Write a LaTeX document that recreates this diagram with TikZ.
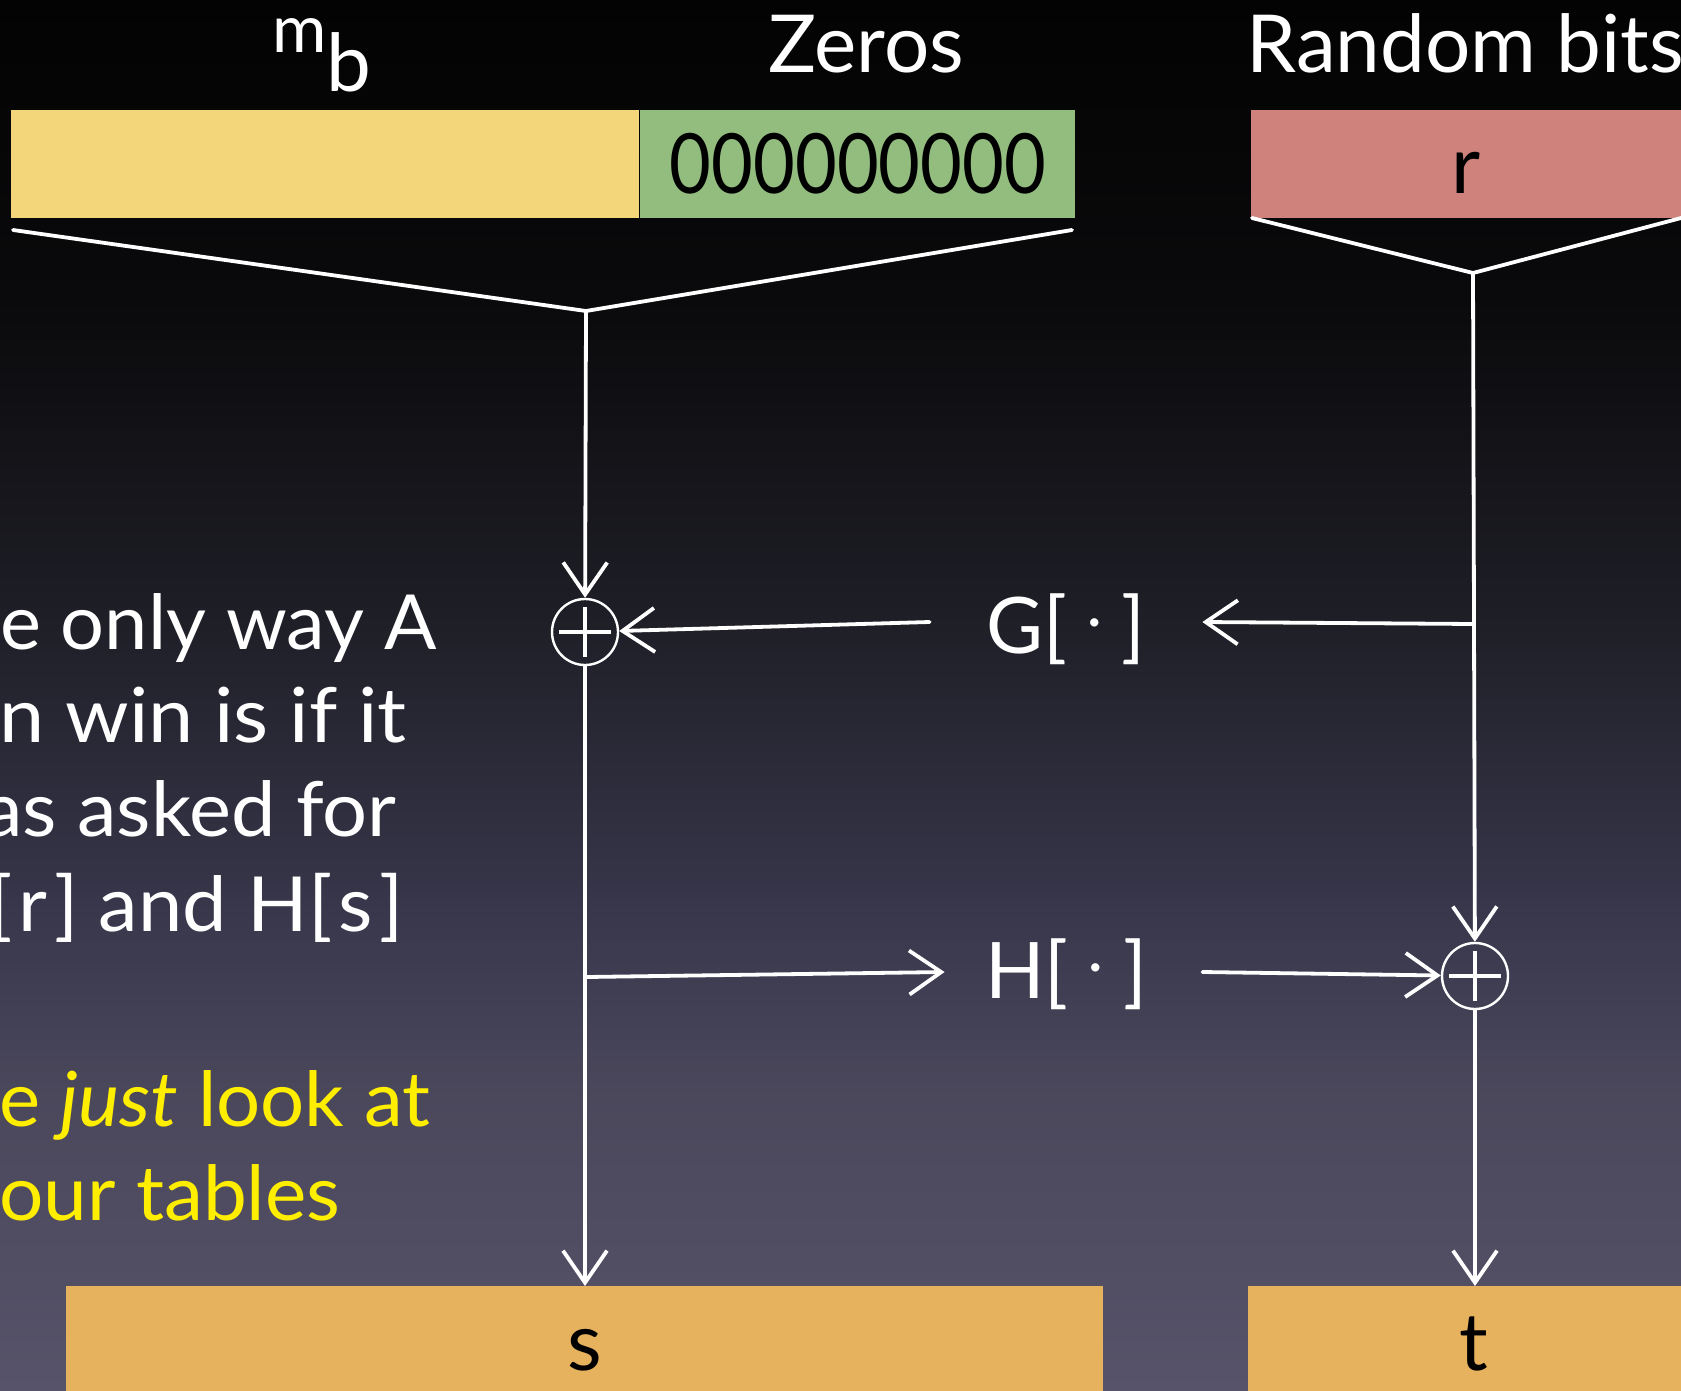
\documentclass[tikz,border=0pt]{standalone}
\usepackage{fontspec}
\setmainfont{Lato}
\usetikzlibrary{arrows.meta,calc}
\definecolor{ylw}{HTML}{F2D679}
\definecolor{grn}{HTML}{93BD7F}
\definecolor{redbox}{HTML}{CF817B}
\definecolor{tan}{HTML}{E6B25E}
\definecolor{yeltext}{HTML}{FFEE00}
\definecolor{bgA}{HTML}{56536A}
\definecolor{bgB}{HTML}{4B485C}
\definecolor{bgC}{HTML}{37364A}
\definecolor{bgD}{HTML}{1D1D25}
\definecolor{bgE}{HTML}{0A0A0C}
\definecolor{bgF}{HTML}{030303}
\pgfdeclareverticalshading{bgshade}{100bp}{color(0bp)=(bgA); color(25bp)=(bgA); color(35.5bp)=(bgB); color(42.6bp)=(bgC); color(53.4bp)=(bgD); color(64.2bp)=(bgE); color(75bp)=(bgF); color(100bp)=(bgF)}
\newcommand{\gdot}{\raisebox{7pt}{\fontsize{28pt}{28pt}\selectfont ·}}
\newcommand{\widetext}[2][1.045]{\scalebox{#1}[1]{#2}}
\begin{document}
\begin{tikzpicture}[x=0.5pt,y=-0.5pt,
  wl/.style={draw=white, line width=1.9pt, line cap=round, line join=miter},
  arr/.style={-{Straight Barb[length=16pt,width=22pt]}},
  xorn/.style={circle, draw=white, line width=1.2pt, minimum size=33pt, inner sep=0pt,
    path picture={\draw[white,line width=1.8pt]
      ($(path picture bounding box.center)+(0pt,12.5pt)$) -- ++(0pt,-25pt)
      ($(path picture bounding box.center)+(-13pt,0pt)$) -- ++(26pt,0pt);}},
  box/.style={draw=none, inner sep=0pt, anchor=north west, text=black,
    font=\fontsize{40pt}{40pt}\selectfont},
  lbl/.style={text=white, inner sep=0pt, font=\fontsize{40pt}{40pt}\selectfont},
  fnode/.style={text=white, inner sep=0pt, minimum width=136pt, text depth=0pt,
    anchor=base, font=\fontsize{39pt}{39pt}\selectfont},
  bodytext/.style={text=white, inner sep=0pt, anchor=base east,
    font=\fontsize{38pt}{38pt}\selectfont}]
\useasboundingbox (0,0) rectangle (1681,1391);
\clip (0,0) rectangle (1681,1391);
\shade[shading=bgshade] (0,0) rectangle (1681,1391);

% boxes
\node[box, fill=ylw, minimum width=314pt, minimum height=54pt] (mbox) at (11,110) {};
\node[box, fill=grn, minimum width=217.5pt, minimum height=54pt, text height=29pt, text depth=0pt] (zbox) at (640,110) {\scalebox{0.9}[1.04]{000000000}};
\node[box, fill=redbox, minimum width=215pt, minimum height=54pt, text height=29pt, text depth=0pt] (rbox) at (1251,110) {r};
\node[box, fill=tan, minimum width=518.5pt, minimum height=59pt, text height=25pt, text depth=0pt] (sbox) at (66,1286) {s};
\node[box, fill=tan, minimum width=225pt, minimum height=59pt, text height=25pt, text depth=0pt] (tbox) at (1248,1286) {t};

% labels
\node[text=white, anchor=base west, inner sep=0pt] (mb) at (272,53)
  {\fontsize{33pt}{33pt}\selectfont m\raisebox{-19.5pt}{\fontsize{40pt}{40pt}\selectfont b}};
\node[lbl, anchor=base] (zeros) at (866,73) {Zeros};
\node[lbl, anchor=base west] (rand) at (1246,73) {Random bits};

% function nodes
\node[fnode, text height=31pt] (G) at (1066,653) {G[\hspace{10pt}\gdot\hspace{10pt}]};
\node[fnode, text height=26pt] (H) at (1066,998) {H[\hspace{10pt}\gdot\hspace{10pt}]};

% xor nodes
\node[xorn] (xor1) at (585,632) {};
\node[xorn] (xor2) at (1475,976) {};

% coordinates
\coordinate (b1l) at (13,230);
\coordinate (apex1) at (586,311);
\coordinate (b1r) at (1072,230);
\coordinate (b2l) at (1252,218);
\coordinate (apex2) at (1473,273);
\coordinate (b2r) at (1700,213);
\coordinate (jS) at (587,977);
\coordinate (jR) at (1473,624);

% connectors
\draw[wl] (b1l) -- (apex1) -- (b1r);
\draw[wl] (b2l) -- (apex2) -- (b2r);
\draw[wl,arr] (apex1) -- (xor1);
\draw[wl,arr] (xor1.south) -- (xor1.south |- sbox.north);
\draw[wl,arr] (jS) -- ([xshift=7.5pt]H.west);
\draw[wl,arr] (H.east) -- (xor2);
\draw[wl,arr] (apex2) -- (xor2);
\draw[wl,arr] (jR) -- (G.east);
\draw[wl,arr] (G.west) -- (xor1);
\draw[wl,arr] (xor2.south) -- (xor2.south |- tbox.north);

% body text
\node[bodytext] (t1) at (437,649) {\widetext[1.02]{e only way A}};
\node[bodytext] (t2) at (407,742) {\widetext[1.065]{an win is if it}};
\node[bodytext] (t3) at (397,836) {\widetext{as asked for}};
\node[bodytext] (t4) at (404,931) {\widetext{[\hspace{3pt}r\hspace{3pt}] and H[\hspace{3pt}s\hspace{3pt}]}};
\node[bodytext, text=yeltext] (t5) at (431,1126) {\widetext[1.025]{e \textit{just} look at}};
\node[bodytext, text=yeltext] (t6) at (341,1220) {\widetext[1.03]{our tables}};
\end{tikzpicture}
\end{document}
